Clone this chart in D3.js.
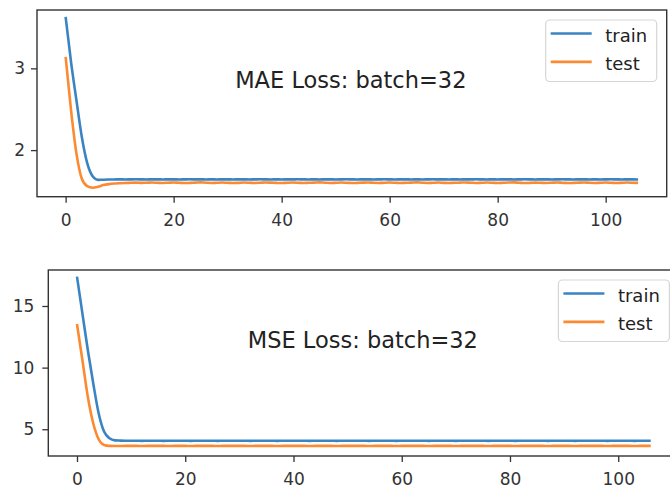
<!DOCTYPE html>
<html>
<head>
<meta charset="utf-8">
<script src="https://cdn.jsdelivr.net/npm/d3@7"></script>
<style>
  html, body { margin: 0; padding: 0; background: #fff; }
  svg { display: block; font-family: "DejaVu Sans", sans-serif; }
</style>
</head>
<body>
<svg id="chart" width="670" height="490"></svg>
<script>
// ---- data ----
const seriesNames = ["train", "test"];
const xTicks = [0, 20, 40, 60, 80, 100];
const maeTicks = [2, 3];
const mseTicks = [5, 10, 15];
const maeTitle = "MAE Loss: batch=32";
const mseTitle = "MSE Loss: batch=32";

const maeTrain = [3.63,3.08,2.61,2.16,1.84,1.68,1.636,1.638,1.640,1.641,
1.642,1.641,1.642,1.643,1.642,1.641,1.642,1.642,1.641,1.642,
1.642,1.641,1.642,1.643,1.642,1.642,1.641,1.642,1.641,1.642,
1.642,1.641,1.642,1.642,1.641,1.642,1.643,1.642,1.641,1.642,
1.641,1.642,1.642,1.643,1.642,1.641,1.642,1.641,1.642,1.642,
1.641,1.642,1.643,1.642,1.641,1.642,1.642,1.641,1.642,1.643,
1.642,1.641,1.642,1.642,1.641,1.642,1.641,1.642,1.643,1.642,
1.642,1.641,1.642,1.641,1.642,1.642,1.643,1.642,1.641,1.642,
1.641,1.642,1.642,1.641,1.642,1.643,1.642,1.641,1.642,1.642,
1.641,1.642,1.643,1.642,1.641,1.642,1.642,1.641,1.642,1.641,
1.642,1.643,1.642,1.641,1.642,1.642,1.641];

const maeTest = [3.14,2.49,1.96,1.65,1.56,1.54,1.552,1.572,1.584,1.591,
1.595,1.598,1.600,1.602,1.599,1.601,1.603,1.600,1.598,1.601,
1.604,1.600,1.597,1.599,1.602,1.605,1.601,1.598,1.600,1.603,
1.600,1.597,1.599,1.603,1.601,1.598,1.600,1.604,1.602,1.599,
1.597,1.600,1.603,1.601,1.598,1.600,1.602,1.605,1.601,1.598,
1.600,1.603,1.600,1.597,1.599,1.602,1.604,1.600,1.598,1.601,
1.603,1.600,1.597,1.600,1.602,1.605,1.601,1.598,1.600,1.603,
1.599,1.597,1.600,1.602,1.604,1.601,1.598,1.600,1.603,1.601,
1.598,1.600,1.603,1.605,1.601,1.597,1.599,1.602,1.600,1.598,
1.601,1.604,1.600,1.597,1.599,1.602,1.604,1.600,1.598,1.601,
1.603,1.600,1.598,1.601,1.603,1.600,1.599];

const mseTrain = [17.38,14.40,11.43,8.73,6.30,4.81,4.27,4.10,4.08,4.07,
4.07,4.07,4.06,4.07,4.07,4.07,4.06,4.07,4.07,4.07,
4.07,4.06,4.07,4.07,4.07,4.07,4.06,4.07,4.07,4.07,
4.07,4.07,4.06,4.07,4.07,4.07,4.07,4.06,4.07,4.07,
4.07,4.07,4.07,4.06,4.07,4.07,4.07,4.07,4.06,4.07,
4.07,4.07,4.07,4.07,4.06,4.07,4.07,4.07,4.07,4.06,
4.07,4.07,4.07,4.07,4.07,4.06,4.07,4.07,4.07,4.07,
4.06,4.07,4.07,4.07,4.07,4.07,4.06,4.07,4.07,4.07,
4.07,4.06,4.07,4.07,4.07,4.07,4.07,4.06,4.07,4.07,
4.07,4.07,4.06,4.07,4.07,4.07,4.07,4.07,4.06,4.07,
4.07,4.07,4.07,4.06,4.07,4.07,4.07];

const mseTest = [13.54,10.62,7.64,5.49,4.19,3.73,3.65,3.64,3.64,3.65,
3.65,3.65,3.64,3.65,3.65,3.65,3.65,3.64,3.65,3.65,
3.65,3.64,3.65,3.65,3.65,3.65,3.64,3.65,3.65,3.65,
3.65,3.65,3.64,3.65,3.65,3.65,3.65,3.64,3.65,3.65,
3.65,3.65,3.65,3.64,3.65,3.65,3.65,3.65,3.64,3.65,
3.65,3.65,3.65,3.65,3.64,3.65,3.65,3.65,3.65,3.64,
3.65,3.65,3.65,3.65,3.65,3.64,3.65,3.65,3.65,3.65,
3.64,3.65,3.65,3.65,3.65,3.65,3.64,3.65,3.65,3.65,
3.65,3.64,3.65,3.65,3.65,3.65,3.65,3.64,3.65,3.65,
3.65,3.65,3.64,3.65,3.65,3.65,3.65,3.65,3.64,3.65,
3.65,3.65,3.65,3.64,3.65,3.65,3.65];

// ---- drawing ----
const colors = ["#3b84c4", "#fb8a32"];
const svg = d3.select("#chart");

function panel(cfg) {
  const { left, right, top, bottom, yDomain, yTicks, series, title, yPad } = cfg;
  const x = d3.scaleLinear().domain([-5.3, 111.3]).range([left, right]);
  const y = d3.scaleLinear().domain(yDomain).range([bottom, top]);
  const g = svg.append("g");

  const clipId = "clip" + Math.round(top);
  svg.append("defs").append("clipPath").attr("id", clipId)
    .append("rect").attr("x", left).attr("y", top)
    .attr("width", right - left).attr("height", bottom - top);

  const line = d3.line().x((d, i) => x(i)).y(d => y(d)).curve(d3.curveMonotoneX);
  series.forEach((s, k) => {
    g.append("path").datum(s)
      .attr("clip-path", `url(#${clipId})`)
      .attr("fill", "none").attr("stroke", colors[k])
      .attr("stroke-width", 2.6).attr("stroke-linejoin", "round")
      .attr("d", line);
  });

  const ax = d3.axisBottom(x).tickValues(xTicks).tickSize(6).tickPadding(11)
    .tickFormat(d3.format("d"));
  const gx = g.append("g").attr("transform", `translate(0,${bottom})`).call(ax);
  const ay = d3.axisLeft(y).tickValues(yTicks).tickSize(6).tickPadding(yPad)
    .tickFormat(d3.format("d"));
  const gy = g.append("g").attr("transform", `translate(${left},0)`).call(ay);
  [gx, gy].forEach(a => {
    a.select(".domain").remove();
    a.selectAll("line").attr("stroke", "#333").attr("stroke-width", 1.3);
    a.selectAll("text").attr("fill", "#333").style("font-size", "17px")
      .style("font-family", "DejaVu Sans");
  });

  g.append("rect").attr("x", left).attr("y", top)
    .attr("width", right - left).attr("height", bottom - top)
    .attr("fill", "none").attr("stroke", "#333").attr("stroke-width", 1.4);

  g.append("text").attr("x", (left + right) / 2 - 1).attr("y", top + 78)
    .attr("text-anchor", "middle").attr("fill", "#222")
    .style("font-size", "22.5px").text(title);

  // legend
  const lw = 111, lh = 61.5;
  const lx = right - 10 - lw, ly = top + 10;
  const lg = g.append("g");
  lg.append("rect").attr("x", lx).attr("y", ly).attr("width", lw).attr("height", lh)
    .attr("rx", 4).attr("fill", "#fff").attr("fill-opacity", 0.8)
    .attr("stroke", "#d5d5d5").attr("stroke-width", 1.2);
  seriesNames.forEach((n, k) => {
    const yy = ly + 13.5 + k * 28.4;
    lg.append("line").attr("x1", lx + 5).attr("x2", lx + 46)
      .attr("y1", yy).attr("y2", yy).attr("stroke", colors[k]).attr("stroke-width", 2.6);
    lg.append("text").attr("x", lx + 59.5).attr("y", yy + 8.5)
      .attr("fill", "#222").style("font-size", "18px").text(n);
  });
}

panel({ left: 37, right: 666.7, top: 10, bottom: 196.7, yDomain: [1.43, 3.714],
  yTicks: maeTicks, series: [maeTrain, maeTest], title: maeTitle, yPad: 6 });
panel({ left: 48.3, right: 679.4, top: 270, bottom: 456, yDomain: [2.83, 17.92],
  yTicks: mseTicks, series: [mseTrain, mseTest], title: mseTitle, yPad: 8 });
</script>
</body>
</html>
